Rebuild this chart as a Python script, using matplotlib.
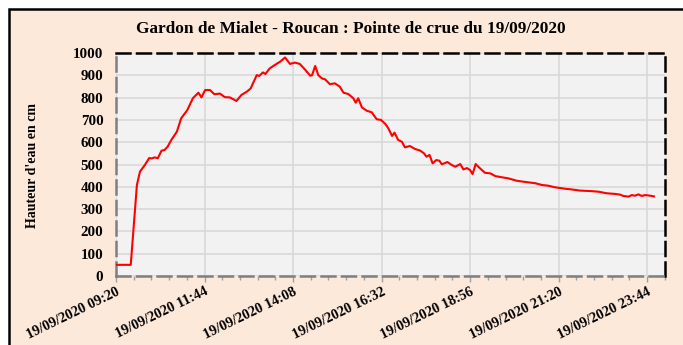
import datetime as dt
import matplotlib
matplotlib.use("Agg")
import matplotlib.pyplot as plt
import matplotlib.dates as mdates
from matplotlib.patches import Rectangle
from matplotlib.ticker import FixedLocator

# Water level readings, Gardon de Mialet at Roucan, 19/09/2020
times = ["09:20", "09:44", "09:54", "09:59", "10:07", "10:14", "10:18", "10:23",
         "10:28", "10:34", "10:39", "10:44", "10:50", "10:59", "11:06", "11:16",
         "11:25", "11:34", "11:39", "11:45", "11:53", "12:00", "12:09", "12:17",
         "12:25", "12:36", "12:44", "12:53", "12:59", "13:09", "13:13", "13:19",
         "13:23", "13:30", "13:41", "13:47", "13:55", "14:03", "14:11", "14:19",
         "14:28", "14:36", "14:39", "14:44", "14:49", "14:55", "15:00", "15:08",
         "15:16", "15:24", "15:30", "15:38", "15:46", "15:50", "15:54", "16:00",
         "16:08", "16:16", "16:24", "16:31", "16:38", "16:43", "16:49", "16:53",
         "16:59", "17:05", "17:10", "17:18", "17:26", "17:35", "17:41", "17:45",
         "17:50", "17:55", "18:01", "18:06", "18:10", "18:19", "18:26", "18:32",
         "18:40", "18:45", "18:51", "18:56", "19:00", "19:05", "19:12", "19:20",
         "19:29", "19:37", "19:47", "19:58", "20:12", "20:25", "20:42", "20:53",
         "21:03", "21:14", "21:31", "21:39", "21:55", "22:11", "22:25", "22:38",
         "22:52", "23:00", "23:05", "23:14", "23:19", "23:24", "23:30", "23:35",
         "23:41", "23:49", "23:55"]
hauteur_cm = [50, 50, 408, 468, 498, 529, 527, 532,
              528, 562, 565, 580, 610, 647, 707, 744,
              797, 822, 801, 834, 834, 815, 818, 802,
              801, 785, 812, 827, 841, 901, 897, 913,
              906, 931, 951, 961, 980, 951, 957, 951,
              924, 898, 901, 942, 901, 886, 882, 860,
              864, 849, 822, 816, 797, 777, 797, 756,
              741, 734, 703, 700, 682, 662, 628, 643,
              610, 602, 577, 583, 570, 562, 550, 535,
              543, 505, 520, 517, 501, 511, 498, 490,
              502, 478, 484, 475, 457, 502, 483, 463,
              460, 448, 443, 438, 427, 422, 416, 408,
              405, 398, 391, 389, 383, 381, 378, 371,
              368, 365, 359, 356, 363, 360, 366, 359,
              363, 360, 357]

day = "19/09/2020"
title = "Gardon de Mialet - Roucan : Pointe de crue du 19/09/2020"
ylabel = "Hauteur d'eau en cm"
x_start = "09:20"
x_end_minutes = 893          # axis span after start
major_step_minutes = 144     # 0.1 day
y_ticks = list(range(0, 1001, 100))

def to_dt(hhmm):
    return dt.datetime.strptime(f"{day} {hhmm}", "%d/%m/%Y %H:%M")

x = [to_dt(t) for t in times]
t0 = to_dt(x_start)
t1 = t0 + dt.timedelta(minutes=x_end_minutes)

W, H = 683, 345
fig = plt.figure(figsize=(W / 100, H / 100), dpi=100)
fig.patch.set_facecolor("white")

peach = "#FDE9DA"
fig.patches.append(Rectangle((9 / W, -0.1), 1.2, 1 - 9 / H + 0.1,
                             transform=fig.transFigure, facecolor=peach,
                             edgecolor="black", linewidth=1.8, zorder=-5))

ax = fig.add_axes([116 / W, 69 / H, 549 / W, 223 / H])
ax.set_facecolor("#F2F2F2")
ax.plot(x, hauteur_cm, color="#FF0000", lw=1.5, zorder=3)

ax.set_xlim(t0, t1)
ax.set_ylim(0, 1000)

majors = [t0 + dt.timedelta(minutes=major_step_minutes * k) for k in range(7)]
minors = [t0 + dt.timedelta(minutes=major_step_minutes / 5 * k) for k in range(32)]
ax.xaxis.set_major_locator(FixedLocator(mdates.date2num(majors)))
ax.xaxis.set_minor_locator(FixedLocator(mdates.date2num(minors)))
ax.xaxis.set_major_formatter(mdates.DateFormatter("%d/%m/%Y %H:%M"))
ax.set_yticks(y_ticks)

ax.grid(True, which="major", color="#D9D9D9", lw=1.2, zorder=0)
ax.set_axisbelow(True)

serif = ["Liberation Serif", "DejaVu Serif"]
for lab in ax.get_xticklabels():
    lab.set_rotation(26)
    lab.set_ha("right")
    lab.set_va("top")
    lab.set_rotation_mode("anchor")
    lab.set_fontfamily(serif)
    lab.set_fontweight("bold")
    lab.set_fontsize(10.3)
for lab in ax.get_yticklabels():
    lab.set_fontfamily(serif)
    lab.set_fontweight("bold")
    lab.set_fontsize(10.8)

ax.tick_params(axis="y", length=0, pad=9)
ax.tick_params(axis="x", which="major", length=4, color="#A0A0A0", width=1, pad=2.5)
ax.tick_params(axis="x", which="minor", length=3, color="#A0A0A0", width=1)

for side in ("top", "right"):
    ax.spines[side].set_color("black")
    ax.spines[side].set_linewidth(1.8)
    ax.spines[side].set_linestyle((0, (5.6, 2.6)))
for side in ("left", "bottom"):
    ax.spines[side].set_color("#7F7F7F")
    ax.spines[side].set_linewidth(1.8)
    ax.spines[side].set_linestyle((0, (5.6, 2.6)))

fig.text(351 / W, 1 - 29 / H, title, ha="center", va="center",
         fontfamily=serif, fontweight="bold", fontsize=12.4)
fig.text(33 / W, 1 - 165 / H, ylabel, ha="center", va="center", rotation=90,
         fontfamily=serif, fontweight="bold", fontsize=10)

fig.savefig("out.png", dpi=100)
